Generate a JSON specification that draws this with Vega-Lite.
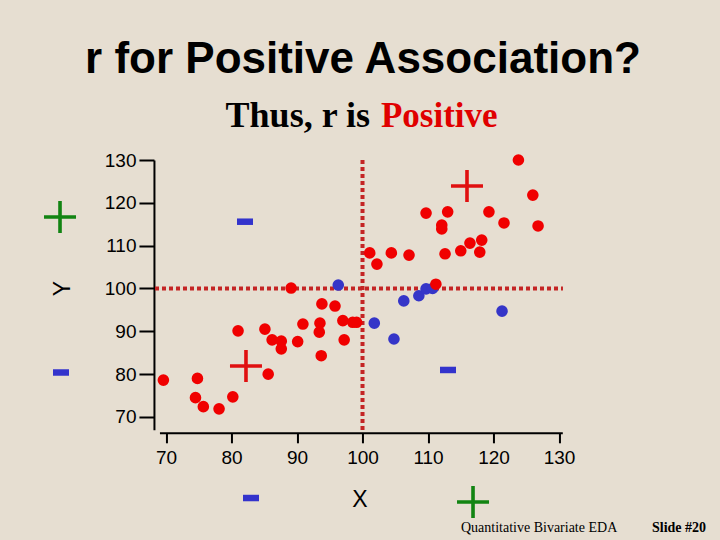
{
  "$schema": "https://vega.github.io/schema/vega-lite/v6.json",
  "width": 402.85,
  "height": 269.8,
  "autosize": {"type": "none"},
  "padding": {"left": 159.45, "top": 160, "right": 157.7, "bottom": 110.2},
  "background": "#e6ded1",
  "view": {"stroke": null},
  "config": {"font": "Liberation Sans"},
  "encoding": {
    "x": {
      "field": "x", "type": "quantitative",
      "scale": {"domain": [69, 130.5], "nice": false, "zero": false},
      "axis": {
        "orient": "bottom", "offset": 3, "grid": false,
        "values": [70, 80, 90, 100, 110, 120, 130],
        "domainColor": "black", "domainWidth": 2,
        "tickColor": "black", "tickWidth": 2, "tickSize": 10,
        "labelFont": "Liberation Sans", "labelFontSize": 19, "labelColor": "black", "labelPadding": 6,
        "labelFlush": false, "labelOverlap": false,
        "title": "X", "titleFont": "Liberation Sans", "titleFontSize": 23, "titleFontWeight": "normal", "titleColor": "black",
        "titleX": 200, "titleY": 67, "titleAlign": "center", "titleBaseline": "middle"
      }
    },
    "y": {
      "field": "y", "type": "quantitative",
      "scale": {"domain": [67, 130], "nice": false, "zero": false},
      "axis": {
        "orient": "left", "offset": 5.5, "grid": false,
        "values": [70, 80, 90, 100, 110, 120, 130],
        "domainColor": "black", "domainWidth": 2,
        "tickColor": "black", "tickWidth": 2, "tickSize": 15,
        "labelFont": "Liberation Sans", "labelFontSize": 19, "labelColor": "black", "labelPadding": 3,
        "labelFlush": false, "labelOverlap": false,
        "title": "Y", "titleFont": "Liberation Sans", "titleFontSize": 23, "titleFontWeight": "normal", "titleColor": "black",
        "titleAngle": 270, "titleX": -91, "titleY": 128, "titleAlign": "center", "titleBaseline": "middle"
      }
    }
  },
  "layer": [
    {
      "data": {"values": [
        {"x": 100, "y": 130, "x2": 100, "y2": 66.25},
        {"x": 68.32, "y": 100, "x2": 130.6, "y2": 100}
      ]},
      "mark": {"type": "rule", "color": "#c42424", "strokeWidth": 4, "strokeDash": [4, 3]},
      "encoding": {"x2": {"field": "x2"}, "y2": {"field": "y2"}}
    },
    {
      "data": {"values": [
        {"x": 96.3, "y": 100.8, "group": "neg"},
        {"x": 106.3, "y": 97.1, "group": "neg"},
        {"x": 108.6, "y": 98.3, "group": "neg"},
        {"x": 109.7, "y": 99.9, "group": "neg"},
        {"x": 110.7, "y": 100.0, "group": "neg"},
        {"x": 101.8, "y": 91.9, "group": "neg"},
        {"x": 104.8, "y": 88.2, "group": "neg"},
        {"x": 121.3, "y": 94.7, "group": "neg"},
        {"x": 123.8, "y": 130.0, "group": "pos"},
        {"x": 126.0, "y": 121.8, "group": "pos"},
        {"x": 126.8, "y": 114.6, "group": "pos"},
        {"x": 109.7, "y": 117.6, "group": "pos"},
        {"x": 113.0, "y": 117.9, "group": "pos"},
        {"x": 112.1, "y": 114.8, "group": "pos"},
        {"x": 112.1, "y": 113.9, "group": "pos"},
        {"x": 119.3, "y": 117.9, "group": "pos"},
        {"x": 121.6, "y": 115.3, "group": "pos"},
        {"x": 116.4, "y": 110.6, "group": "pos"},
        {"x": 118.2, "y": 111.3, "group": "pos"},
        {"x": 115.0, "y": 108.8, "group": "pos"},
        {"x": 112.6, "y": 108.1, "group": "pos"},
        {"x": 117.9, "y": 108.5, "group": "pos"},
        {"x": 101.1, "y": 108.3, "group": "pos"},
        {"x": 102.2, "y": 105.7, "group": "pos"},
        {"x": 104.4, "y": 108.3, "group": "pos"},
        {"x": 107.1, "y": 107.8, "group": "pos"},
        {"x": 111.2, "y": 101.0, "group": "pos"},
        {"x": 89.1, "y": 100.1, "group": "pos"},
        {"x": 93.8, "y": 96.4, "group": "pos"},
        {"x": 95.8, "y": 95.9, "group": "pos"},
        {"x": 93.5, "y": 91.9, "group": "pos"},
        {"x": 93.4, "y": 89.8, "group": "pos"},
        {"x": 90.9, "y": 91.7, "group": "pos"},
        {"x": 97.0, "y": 92.5, "group": "pos"},
        {"x": 98.5, "y": 92.1, "group": "pos"},
        {"x": 99.1, "y": 92.1, "group": "pos"},
        {"x": 81.0, "y": 90.1, "group": "pos"},
        {"x": 85.1, "y": 90.5, "group": "pos"},
        {"x": 86.2, "y": 88.0, "group": "pos"},
        {"x": 87.6, "y": 87.7, "group": "pos"},
        {"x": 87.6, "y": 85.9, "group": "pos"},
        {"x": 90.1, "y": 87.6, "group": "pos"},
        {"x": 93.7, "y": 84.3, "group": "pos"},
        {"x": 97.2, "y": 88.0, "group": "pos"},
        {"x": 85.6, "y": 80.0, "group": "pos"},
        {"x": 69.6, "y": 78.6, "group": "pos"},
        {"x": 74.8, "y": 79.0, "group": "pos"},
        {"x": 74.5, "y": 74.5, "group": "pos"},
        {"x": 75.7, "y": 72.4, "group": "pos"},
        {"x": 78.1, "y": 71.9, "group": "pos"},
        {"x": 80.2, "y": 74.7, "group": "pos"}
      ]},
      "mark": {"type": "circle", "size": 135, "opacity": 1},
      "encoding": {
        "color": {"field": "group", "type": "nominal", "scale": {"domain": ["pos", "neg"], "range": ["#f00000", "#3535c8"]}, "legend": null}
      }
    },
    {
      "data": {"values": [
        {"x": 53.82, "y": 116.69, "tone": "green"},
        {"x": 115.95, "y": 123.93, "tone": "red"},
        {"x": 82.21, "y": 81.9, "tone": "red"},
        {"x": 116.87, "y": 50.14, "tone": "green"}
      ]},
      "mark": {"type": "point", "shape": "M-1,0H1M0,-1V1", "size": 1024, "filled": false, "strokeWidth": 3.6, "opacity": 1},
      "encoding": {
        "stroke": {"field": "tone", "type": "nominal", "scale": {"domain": ["green", "red", "blue"], "range": ["#128412", "#e01010", "#3333cc"]}, "legend": null}
      }
    },
    {
      "data": {"values": [
        {"x": 53.97, "y": 80.38, "tone": "blue"},
        {"x": 82.06, "y": 115.59, "tone": "blue"},
        {"x": 113.05, "y": 80.97, "tone": "blue"},
        {"x": 82.98, "y": 51.07, "tone": "blue"}
      ]},
      "mark": {"type": "point", "shape": "M-1,0H1", "size": 256, "filled": false, "strokeWidth": 6.5, "opacity": 1},
      "encoding": {
        "stroke": {"field": "tone", "type": "nominal", "scale": {"domain": ["green", "red", "blue"], "range": ["#128412", "#e01010", "#3333cc"]}, "legend": null}
      }
    },
    {
      "data": {"values": [{"x": 100.07, "y": 150.31, "label": "r for Positive Association?"}]},
      "mark": {"type": "text", "font": "Liberation Sans", "fontWeight": "bold", "fontSize": 44, "align": "center", "baseline": "alphabetic", "color": "black"},
      "encoding": {"text": {"field": "label"}}
    },
    {
      "data": {"values": [{"x": 101.14, "y": 137.59, "label": "Thus, r is"}]},
      "mark": {"type": "text", "font": "Liberation Serif", "fontWeight": "bold", "fontSize": 36, "align": "right", "baseline": "alphabetic", "color": "black"},
      "encoding": {"text": {"field": "label"}}
    },
    {
      "data": {"values": [{"x": 102.82, "y": 137.59, "label": "Positive"}]},
      "mark": {"type": "text", "font": "Liberation Serif", "fontWeight": "bold", "fontSize": 35, "align": "left", "baseline": "alphabetic", "color": "#e00000"},
      "encoding": {"text": {"field": "label"}}
    },
    {
      "data": {"values": [{"x": 115.03, "y": 43.14, "label": "Quantitative Bivariate EDA"}]},
      "mark": {"type": "text", "font": "Liberation Serif", "fontSize": 14, "align": "left", "baseline": "alphabetic", "color": "black"},
      "encoding": {"text": {"field": "label"}}
    },
    {
      "data": {"values": [{"x": 144.19, "y": 43.14, "label": "Slide #20"}]},
      "mark": {"type": "text", "font": "Liberation Serif", "fontWeight": "bold", "fontSize": 14, "align": "left", "baseline": "alphabetic", "color": "black"},
      "encoding": {"text": {"field": "label"}}
    }
  ]
}
